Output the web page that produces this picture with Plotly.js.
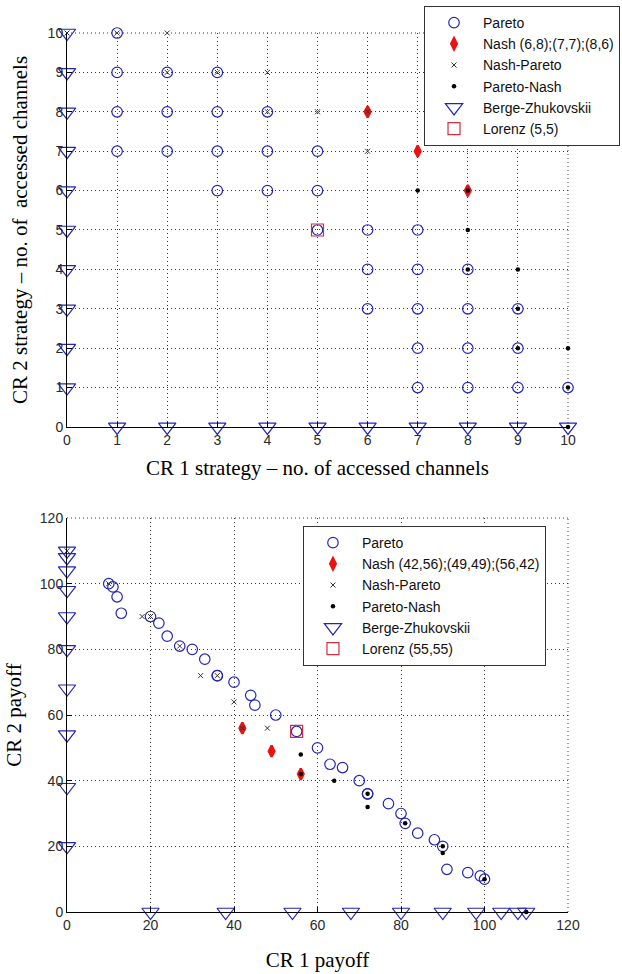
<!DOCTYPE html>
<html>
<head>
<meta charset="utf-8">
<script src="https://cdn.plot.ly/plotly-3.0.1.min.js"></script>
<style>html,body{margin:0;padding:0;background:#fff;}#chart{width:622px;height:974px;}</style>
</head>
<body>
<div id="chart"></div>
<script>
// ---------- Top panel: strategies ----------
const stratParetoX = [1,1,1,1,2,2,2,3,3,3,3,4,4,4,5,5,5,6,6,6,7,7,7,7,7,8,8,8,8,9,9,9,10];
const stratParetoY = [10,9,8,7,9,8,7,9,8,7,6,8,7,6,7,6,5,5,4,3,5,4,3,2,1,4,3,2,1,3,2,1,1];
const stratNashX = [6,7,8];
const stratNashY = [8,7,6];
const stratNPX = [0,1,2,2,3,4,4,5,6,6];
const stratNPY = [10,10,10,9,9,9,8,8,8,7];
const stratPNX = [10,10,10,9,9,9,8,8,8,7];
const stratPNY = [0,1,2,2,3,4,4,5,6,6];
const stratBZX = [0,0,0,0,0,0,0,0,0,0,1,2,3,4,5,6,7,8,9,10];
const stratBZY = [1,2,3,4,5,6,7,8,9,10,0,0,0,0,0,0,0,0,0,0];
const stratLorenzX = [5];
const stratLorenzY = [5];

// ---------- Bottom panel: payoffs ----------
const payParetoX = [10,11,12,13,20,22,24,27,30,33,36,36,40,44,45,50,55,60,66,72,63,70,77,84,91,72,80,88,96,81,90,99,100];
const payParetoY = [100,99,96,91,90,88,84,81,80,77,72,72,70,66,63,60,55,50,44,36,45,40,33,24,13,36,30,22,12,27,20,11,10];
const payNashX = [42,49,56];
const payNashY = [56,49,42];
const payNPX = [0,10,18,20,27,32,36,40,42,48];
const payNPY = [110,100,90,90,81,72,72,64,56,56];
const payPNX = [110,100,90,90,81,72,72,64,56,56];
const payPNY = [0,10,18,20,27,32,36,40,42,48];
const payBZX = [0,0,0,0,0,0,0,0,0,0,20,38,54,68,80,90,98,104,108,110];
const payBZY = [20,38,54,68,80,90,98,104,108,110,0,0,0,0,0,0,0,0,0,0];
const payLorenzX = [55];
const payLorenzY = [55];

const namesTop = ['Pareto','Nash (6,8);(7,7);(8,6)','Nash-Pareto','Pareto-Nash','Berge-Zhukovskii','Lorenz (5,5)'];
const namesBot = ['Pareto','Nash (42,56);(49,49);(56,42)','Nash-Pareto','Pareto-Nash','Berge-Zhukovskii','Lorenz (55,55)'];

const BLUE = '#2424b8';
const RED = '#ee1111';
const LRED = '#d03040';
const styles = [
  {symbol:'circle-open', size:10.5, color:BLUE, line:{width:1.2, color:BLUE}},
  {symbol:'diamond-tall', size:8, color:RED, line:{width:2.4, color:RED}},
  {symbol:'x-thin-open', size:5, color:'#333', line:{width:1, color:'#333'}},
  {symbol:'circle', size:4.5, color:'#000', line:{width:0}},
  {symbol:'triangle-down-open', size:15, color:BLUE, line:{width:1.2, color:BLUE}},
  {symbol:'square-open', size:12, color:LRED, line:{width:1.2, color:LRED}}
];

function mk(xs, ys, i, names, xa, ya, leg){
  return {type:'scatter', mode:'markers', x:xs, y:ys, name:names[i],
    xaxis:xa, yaxis:ya, legend:leg, cliponaxis:false, marker:styles[i], hoverinfo:'x+y'};
}

const data = [
  mk(stratParetoX, stratParetoY, 0, namesTop, 'x', 'y', 'legend'),
  mk(stratNashX, stratNashY, 1, namesTop, 'x', 'y', 'legend'),
  mk(stratNPX, stratNPY, 2, namesTop, 'x', 'y', 'legend'),
  mk(stratPNX, stratPNY, 3, namesTop, 'x', 'y', 'legend'),
  mk(stratBZX, stratBZY, 4, namesTop, 'x', 'y', 'legend'),
  mk(stratLorenzX, stratLorenzY, 5, namesTop, 'x', 'y', 'legend'),
  mk(payParetoX, payParetoY, 0, namesBot, 'x2', 'y2', 'legend2'),
  mk(payNashX, payNashY, 1, namesBot, 'x2', 'y2', 'legend2'),
  mk(payNPX, payNPY, 2, namesBot, 'x2', 'y2', 'legend2'),
  mk(payPNX, payPNY, 3, namesBot, 'x2', 'y2', 'legend2'),
  mk(payBZX, payBZY, 4, namesBot, 'x2', 'y2', 'legend2'),
  mk(payLorenzX, payLorenzY, 5, namesBot, 'x2', 'y2', 'legend2')
];

const tickFont = {family:'Liberation Sans, Arial, sans-serif', size:14, color:'#2a2a2a'};
const titleFont = {family:'Liberation Serif, Times New Roman, serif', size:21, color:'#000'};
const GRID = '#3a3a3a';
function axis(extra){
  return Object.assign({
    showline:true, linecolor:'#000', linewidth:1, mirror:false,
    ticks:'inside', ticklen:5, tickcolor:'#000', tickwidth:1,
    showgrid:true, gridcolor:GRID, griddash:'1px,3px', gridwidth:1,
    zeroline:false, tickfont:tickFont, fixedrange:true
  }, extra);
}
const legendBase = {
  font:{family:'Liberation Sans, Arial, sans-serif', size:14, color:'#111'},
  bgcolor:'#fff', bordercolor:'#333', borderwidth:1, xanchor:'left', yanchor:'top',
  itemwidth:48, tracegroupgap:0
};
function frame(xr, yr){
  return [
    {type:'line', xref:xr+' domain', yref:yr+' domain', x0:0, x1:1, y0:1, y1:1, line:{color:GRID, width:1, dash:'1px,3px'}, layer:'below'},
    {type:'line', xref:xr+' domain', yref:yr+' domain', x0:1, x1:1, y0:0, y1:1, line:{color:GRID, width:1, dash:'1px,3px'}, layer:'below'}
  ];
}

const layout = {
  width:622, height:974,
  margin:{l:67, r:54, t:33, b:62, autoexpand:false},
  paper_bgcolor:'#fff', plot_bgcolor:'#fff',
  showlegend:true,
  xaxis: axis({domain:[0,1], anchor:'y', range:[0,10], tick0:0, dtick:1,
    title:{text:'CR 1 strategy \u2013 no. of accessed channels', font:titleFont, standoff:13}}),
  yaxis: axis({domain:[0.5518,1], anchor:'x', range:[0,10], tick0:0, dtick:1,
    title:{text:'CR 2 strategy \u2013 no. of  accessed channels', font:titleFont, standoff:14}}),
  xaxis2: axis({domain:[0,1], anchor:'y2', range:[0,120], tick0:0, dtick:20,
    title:{text:'CR 1 payoff', font:titleFont, standoff:20}}),
  yaxis2: axis({domain:[0,0.4482], anchor:'x2', range:[0,120], tick0:0, dtick:20,
    title:{text:'CR 2 payoff', font:titleFont, standoff:12}}),
  legend: Object.assign({}, legendBase, {x:0.7126, y:1.0307}),
  legend2: Object.assign({}, legendBase, {x:0.471, y:0.4391}),
  shapes: frame('x','y').concat(frame('x2','y2'))
};

Plotly.newPlot('chart', data, layout, {displayModeBar:false, staticPlot:true});
</script>
</body>
</html>
